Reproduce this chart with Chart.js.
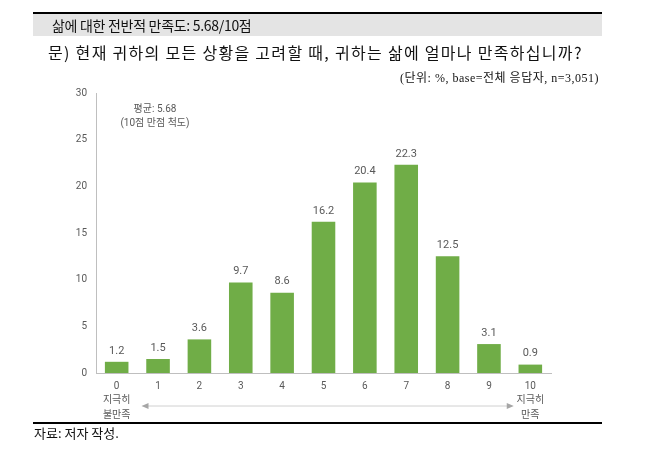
<!DOCTYPE html>
<html><head><meta charset="utf-8">
<script src="https://cdn.jsdelivr.net/npm/chart.js@4"></script>
<style>
html,body{margin:0;padding:0;background:#fff;}
body{width:651px;height:453px;position:relative;overflow:hidden;font-family:"Noto Sans CJK KR","Noto Sans",sans-serif;}
#c{position:absolute;left:0;top:0;}
.hdr{position:absolute;left:33px;top:12px;width:569px;height:24px;background:#e4e4e4;border-top:2px solid #000;box-sizing:border-box;}
.hdr span{position:absolute;left:19px;top:1px;font-size:14px;color:#111;letter-spacing:-0.3px;}
.q{position:absolute;left:48px;top:40px;font-size:16px;color:#111;white-space:nowrap;letter-spacing:1.3px;}
.unit{position:absolute;right:52px;top:68px;font-size:12px;color:#111;font-family:"Liberation Serif","Noto Sans CJK KR",serif;white-space:nowrap;letter-spacing:0.5px;}
.note{position:absolute;left:105px;width:100px;text-align:center;font-size:10px;color:#595959;font-family:Roboto,"Noto Sans CJK KR",sans-serif;white-space:nowrap;}
.foot{position:absolute;left:33px;top:422px;width:569px;border-top:2px solid #000;}
.src{position:absolute;left:34px;top:423px;font-size:13px;color:#111;}
</style></head>
<body>
<canvas id="c" width="651" height="453"></canvas>
<div class="hdr"><span>삶에 대한 전반적 만족도: 5.68/10점</span></div>
<div class="q">문) 현재 귀하의 모든 상황을 고려할 때, 귀하는 삶에 얼마나 만족하십니까?</div>
<div class="unit">(단위: %, base=전체 응답자, n=3,051)</div>
<div class="note" style="top:100px">평균: 5.68</div>
<div class="note" style="top:114px">(10점 만점 척도)</div>
<div class="foot"></div>
<div class="src">자료: 저자 작성.</div>
<script>
const categories = ["0","1","2","3","4","5","6","7","8","9","10"];
const tickLabels = [["0","지극히","불만족"],"1","2","3","4","5","6","7","8","9",["10","지극히","만족"]];
const values = [1.2,1.5,3.6,9.7,8.6,16.2,20.4,22.3,12.5,3.1,0.9];
const yTicks = [0,5,10,15,20,25,30];

const labelPlugin = {
  id:'extras',
  afterDatasetsDraw(chart){
    const ctx = chart.ctx;
    const meta = chart.getDatasetMeta(0);
    ctx.save();
    ctx.font = '11px Roboto, "Noto Sans", sans-serif';
    ctx.fillStyle = '#595959';
    ctx.textAlign = 'center';
    ctx.textBaseline = 'middle';
    meta.data.forEach((bar,i)=>{
      ctx.fillText(values[i].toFixed(1), bar.x, bar.y - 11);
    });
    const xs = chart.scales.x;
    const x1 = xs.getPixelForValue(0.6), x2 = xs.getPixelForValue(9.6);
    const y = chart.chartArea.bottom + 33;
    ctx.strokeStyle = '#d0d0d0';
    ctx.fillStyle = '#a6a6a6';
    ctx.lineWidth = 1;
    ctx.beginPath(); ctx.moveTo(x1+5,y); ctx.lineTo(x2-5,y); ctx.stroke();
    ctx.beginPath(); ctx.moveTo(x1,y); ctx.lineTo(x1+7,y-3); ctx.lineTo(x1+7,y+3); ctx.closePath(); ctx.fill();
    ctx.beginPath(); ctx.moveTo(x2,y); ctx.lineTo(x2-7,y-3); ctx.lineTo(x2-7,y+3); ctx.closePath(); ctx.fill();
    ctx.restore();
  }
};

new Chart(document.getElementById('c'), {
  type:'bar',
  data:{
    labels: tickLabels,
    datasets:[{data: values, backgroundColor:'#70ad47', borderWidth:0, barPercentage:0.57, categoryPercentage:1}]
  },
  options:{
    responsive:false, animation:false,
    layout:{padding:{left:56,right:100,top:93,bottom:30}},
    plugins:{legend:{display:false}, tooltip:{enabled:false}},
    scales:{
      x:{
        grid:{display:false, drawTicks:false},
        border:{color:'#bfbfbf', width:1},
        ticks:{color:'#595959', font:{size:10, family:'Roboto, "Noto Sans CJK KR", sans-serif', lineHeight:1.45}, padding:6, maxRotation:0, autoSkip:false},
        afterFit(s){ s.height = 50; }
      },
      y:{
        min:0, max:30,
        grid:{display:false, drawTicks:false},
        border:{color:'#bfbfbf', width:1},
        afterBuildTicks(s){ s.ticks = yTicks.map(v=>({value:v})); },
        ticks:{color:'#595959', font:{size:10, family:'Roboto, "Noto Sans", sans-serif'}, padding:9},
        afterFit(s){ s.width = 40; }
      }
    }
  },
  plugins:[labelPlugin]
});
</script>
</body></html>
